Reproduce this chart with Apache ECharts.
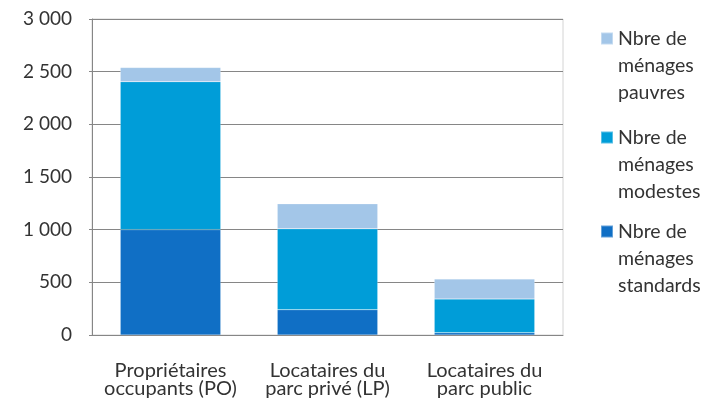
<!DOCTYPE html>
<html>
<head>
<meta charset="utf-8">
<script src="https://cdn.jsdelivr.net/npm/echarts@6/dist/echarts.min.js"></script>
<style>
  html, body { margin: 0; padding: 0; background: #fff; }
</style>
</head>
<body>
<div id="chart" style="width: 708px; height: 403px"></div>
<script>
// catégories (axe x)
var categories = ['Propriétaires\noccupants (PO)', 'Locataires du\nparc privé (LP)', 'Locataires du\nparc public']
// séries empilées
var standards = [1000, 240, 22]
var modestes = [1405, 768, 320]
var pauvres = [135, 237, 190]
var seriesNames = ['Nbre de\nménages\nstandards', 'Nbre de\nménages\nmodestes', 'Nbre de\nménages\npauvres']
var colors = ['#106FC5', '#009DD8', '#A3C6E8']

var font = 'Lato, "Open Sans", sans-serif'

var myChart = echarts.init(document.getElementById('chart'), null, { renderer: 'canvas' })

// centre vertical du carré de chaque entrée de légende
var legendIconY = [232, 138, 39]
var legends = seriesNames.map(function (name, i) {
  return {
    data: [name],
    left: 600,
    top: legendIconY[i] - 68,
    itemWidth: 12,
    itemHeight: 12,
    itemGap: 0,
    padding: 0,
    icon: 'rect',
    selectedMode: false,
    // deux lignes vides au-dessus : le carré s'aligne sur la 1re ligne du texte
    formatter: function (n) { return ' \n \n' + n },
    textStyle: {
      fontFamily: font,
      fontSize: 19.5,
      color: '#333',
      lineHeight: 27
    }
  }
})

var data = [standards, modestes, pauvres]

var option = {
  animation: false,
  color: colors,
  legend: legends,
  grid: {
    left: 92,
    right: 145,
    top: 19,
    bottom: 68,
    show: true,
    borderColor: '#d4d4d4',
    borderWidth: 1
  },
  xAxis: {
    type: 'category',
    data: categories,
    axisTick: { show: false },
    axisLine: { lineStyle: { color: '#868686' } },
    axisLabel: {
      interval: 0,
      fontFamily: font,
      fontSize: 20,
      color: '#333',
      lineHeight: 18.5,
      margin: 26
    }
  },
  yAxis: {
    type: 'value',
    min: 0,
    max: 3000,
    interval: 500,
    axisLine: { show: true, lineStyle: { color: '#868686' } },
    axisTick: { show: true, length: 3, lineStyle: { color: '#868686' } },
    splitLine: { lineStyle: { color: '#868686' } },
    axisLabel: {
      fontFamily: font,
      fontSize: 19,
      color: '#333',
      margin: 20,
      formatter: function (v) {
        return String(v).replace(/\B(?=(\d{3})+(?!\d))/g, ' ')
      }
    }
  },
  series: seriesNames.map(function (name, i) {
    return {
      name: name,
      type: 'bar',
      stack: 'total',
      barWidth: '64%',
      data: data[i],
      itemStyle: {
        color: colors[i],
        borderColor: 'rgba(255,255,255,0.35)',
        borderWidth: 0.5
      }
    }
  })
}
myChart.setOption(option)
</script>
</body>
</html>
